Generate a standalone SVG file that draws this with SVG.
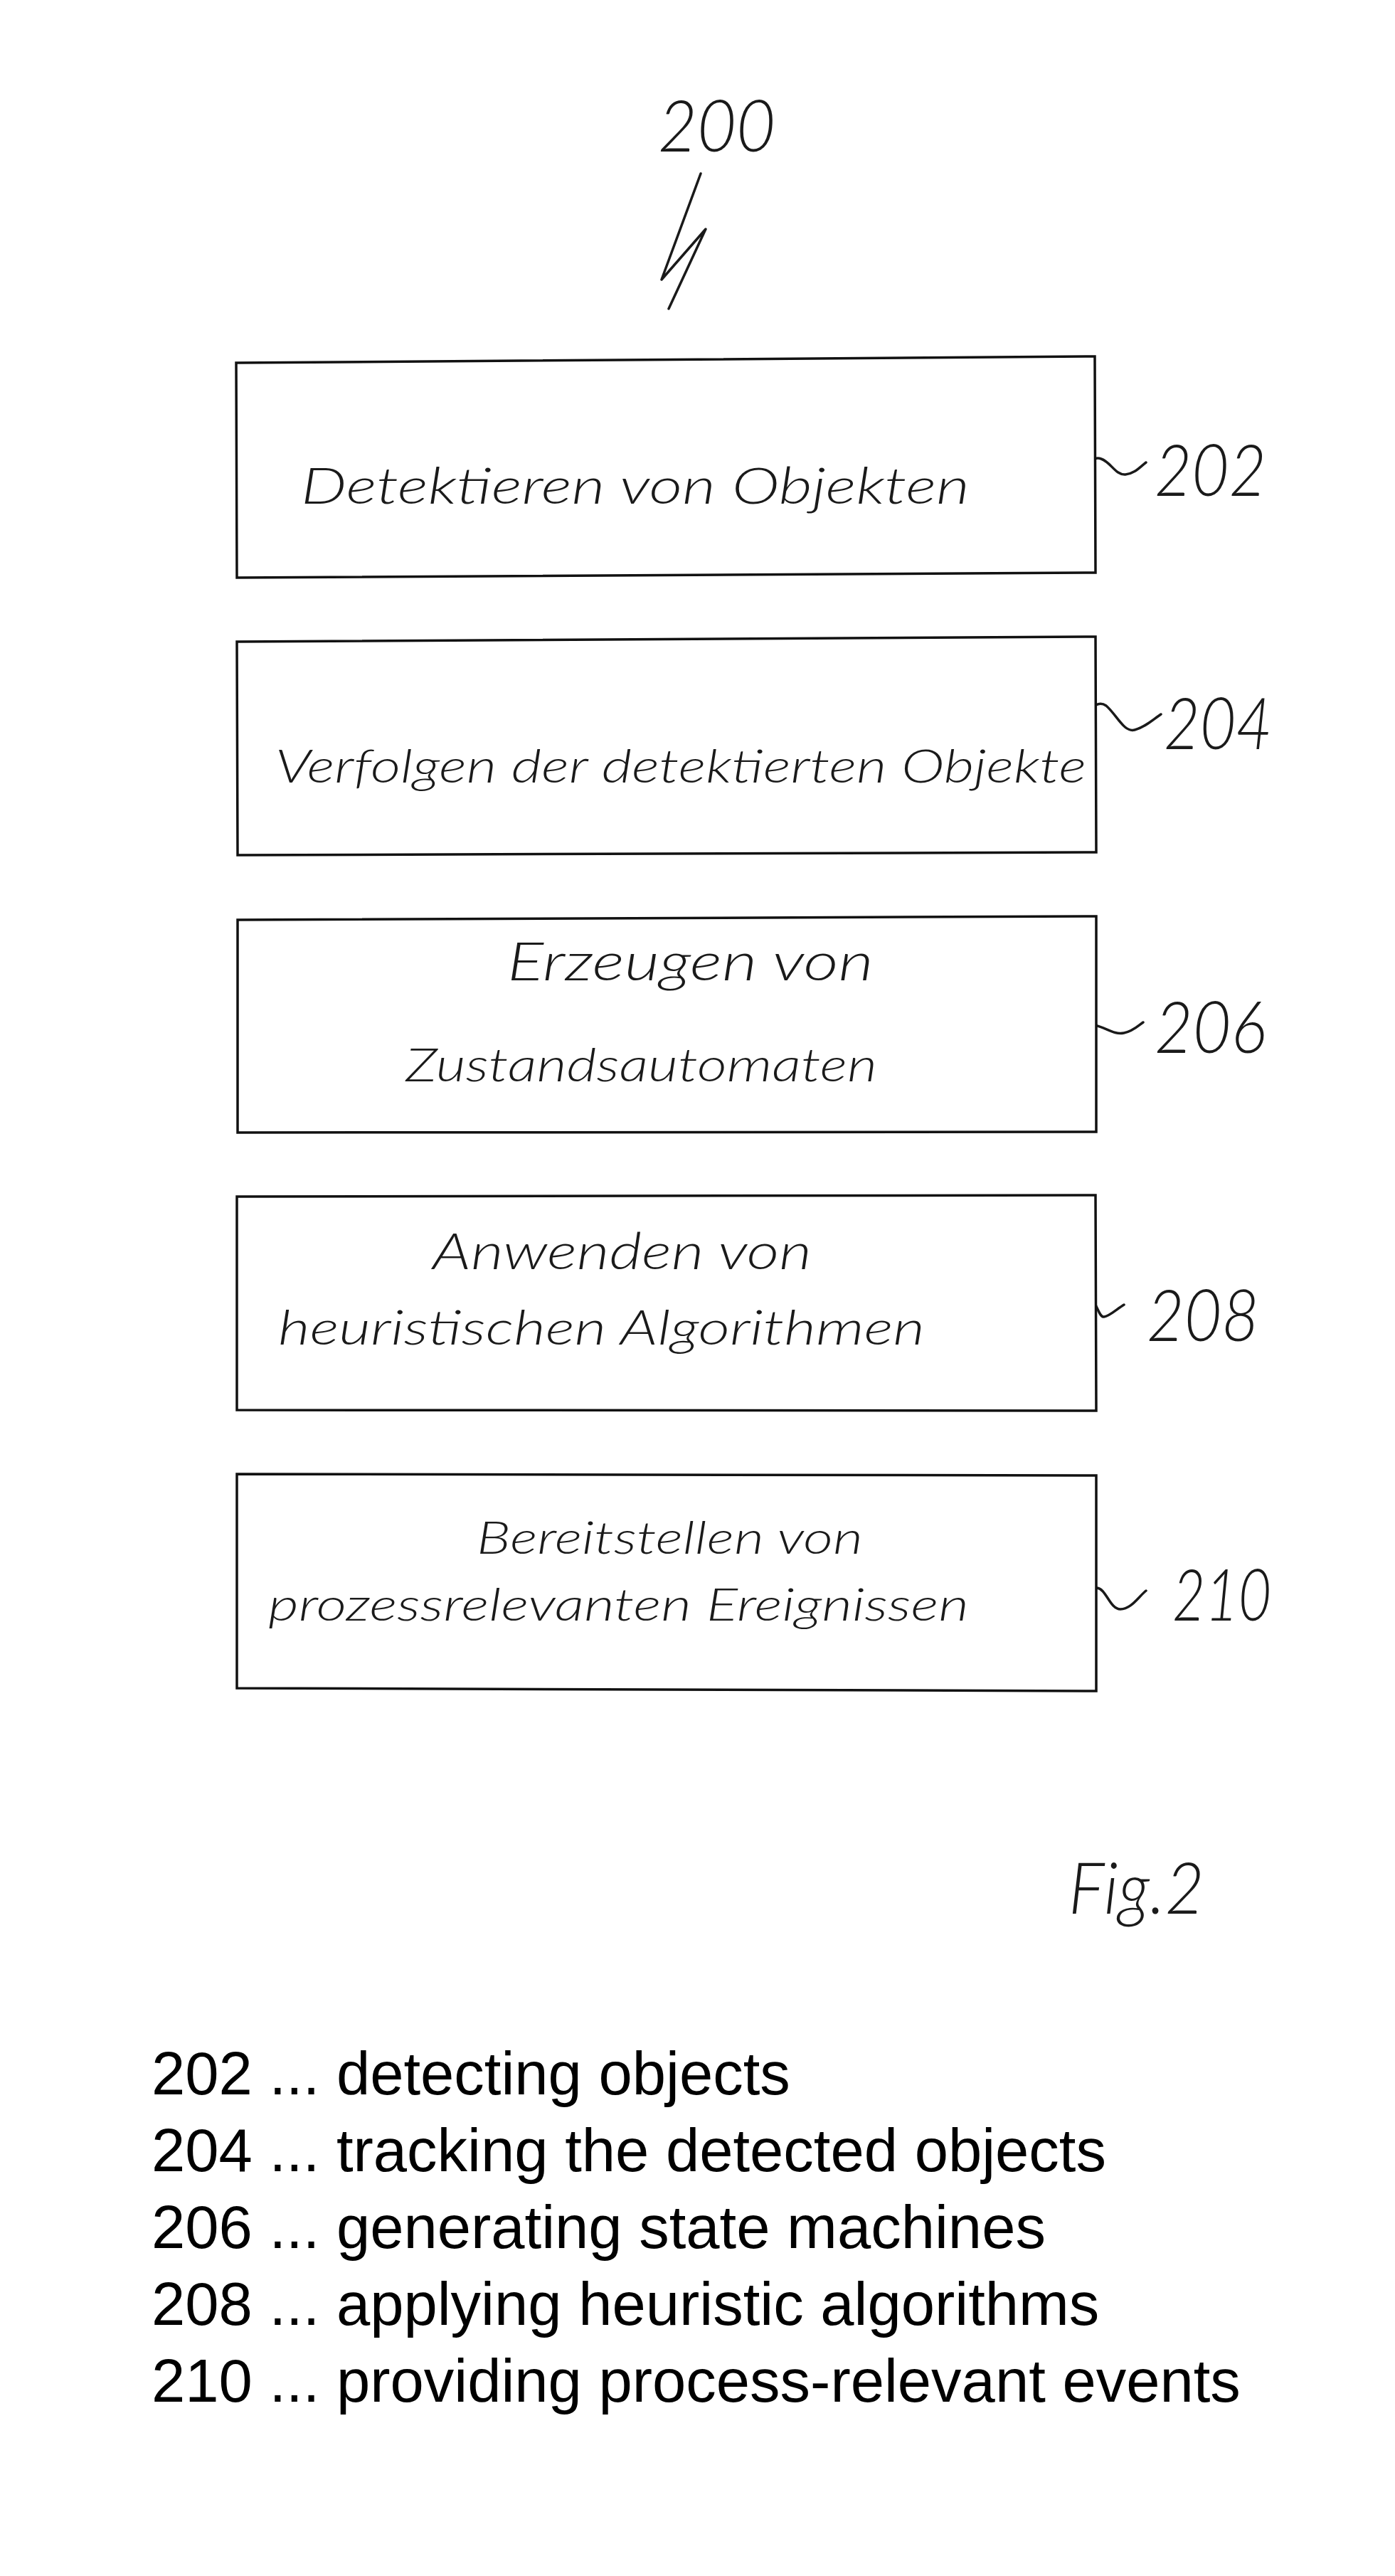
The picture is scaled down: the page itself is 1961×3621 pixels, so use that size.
<svg xmlns="http://www.w3.org/2000/svg" width="1961" height="3621" viewBox="0 0 1961 3621">
<style>
  .box { fill: #fff; stroke: #111; stroke-width: 3.5; stroke-linejoin: miter; }
  .hw { font-family: "Lato", "DejaVu Sans", "Liberation Sans", sans-serif; font-weight: 300; font-style: italic; fill: #1a1a1a; }
  .num { font-size: 100px; }
  .lead { fill: none; stroke: #1a1a1a; stroke-width: 3.5; stroke-linecap: round; stroke-linejoin: round; }
  .legend { font-family: "Liberation Sans", Arial, sans-serif; font-size: 85px; fill: #000; }
</style>
<rect width="1961" height="3621" fill="#fff"/>

<g id="label-200">
  <text class="hw num" x="925" y="213" textLength="165" lengthAdjust="spacingAndGlyphs">200</text>
</g>

<g id="connectors">
  <polyline class="lead" points="985,244 930,393 992,322 940,434"/>
  <path class="lead" d="M1520,680 C1525,655 1535,640 1548,645 C1562,650 1568,668 1582,667 C1595,666 1603,656 1611,650"/>
  <path class="lead" d="M1530,1005 C1535,992 1545,985 1555,992 C1570,1005 1580,1030 1595,1026 C1610,1022 1620,1012 1632,1004"/>
  <path class="lead" d="M1504,1478 C1508,1455 1520,1438 1538,1441 C1555,1444 1565,1455 1580,1452 C1592,1450 1600,1442 1607,1437"/>
  <path class="lead" d="M1497,1874 C1502,1850 1520,1826 1536,1830 C1542,1832 1545,1852 1552,1851 C1560,1850 1570,1840 1580,1834"/>
  <path class="lead" d="M1513,2282 C1515,2255 1527,2232 1542,2232 C1555,2233 1560,2262 1575,2262 C1590,2262 1600,2245 1611,2236"/>
</g>

<g id="node-202">
  <polygon class="box" points="332,510 1539,501 1540,805 333,812"/>
  <text class="hw" font-size="72" x="423" y="708" textLength="940" lengthAdjust="spacingAndGlyphs">Detektieren von Objekten</text>
  <text class="hw num" x="1623" y="697" textLength="157" lengthAdjust="spacingAndGlyphs">202</text>
</g>

<g id="node-204">
  <polygon class="box" points="333,902 1540,895 1541,1198 334,1202"/>
  <text class="hw" font-size="65" x="387" y="1100" textLength="1140" lengthAdjust="spacingAndGlyphs">Verfolgen der detektierten Objekte</text>
  <text class="hw num" x="1636" y="1053" textLength="152" lengthAdjust="spacingAndGlyphs">204</text>
</g>

<g id="node-206">
  <polygon class="box" points="334,1293 1541,1288 1541,1591 334,1592"/>
  <text class="hw" font-size="74" x="713" y="1378" textLength="515" lengthAdjust="spacingAndGlyphs">Erzeugen von</text>
  <text class="hw" font-size="65" x="570" y="1520" textLength="663" lengthAdjust="spacingAndGlyphs">Zustandsautomaten</text>
  <text class="hw num" x="1623" y="1480" textLength="157" lengthAdjust="spacingAndGlyphs">206</text>
</g>

<g id="node-208">
  <polygon class="box" points="333,1682 1540,1680 1541,1983 333,1982"/>
  <text class="hw" font-size="71" x="608" y="1784" textLength="533" lengthAdjust="spacingAndGlyphs">Anwenden von</text>
  <text class="hw" font-size="68" x="391" y="1890" textLength="909" lengthAdjust="spacingAndGlyphs">heuristischen Algorithmen</text>
  <text class="hw num" x="1612" y="1885" textLength="158" lengthAdjust="spacingAndGlyphs">208</text>
</g>

<g id="node-210">
  <polygon class="box" points="333,2072 1541,2074 1541,2377 333,2373"/>
  <text class="hw" font-size="64" x="670" y="2184" textLength="543" lengthAdjust="spacingAndGlyphs">Bereitstellen von</text>
  <text class="hw" font-size="64" x="377" y="2278" textLength="985" lengthAdjust="spacingAndGlyphs">prozessrelevanten Ereignissen</text>
  <text class="hw num" x="1648" y="2278" textLength="139" lengthAdjust="spacingAndGlyphs">210</text>
</g>

<g id="figure-label">
  <text class="hw num" x="1502" y="2690" textLength="191" lengthAdjust="spacingAndGlyphs">Fig.2</text>
</g>

<g id="legend">
  <text class="legend" x="213" y="2944">202 ... detecting objects</text>
  <text class="legend" x="213" y="3052">204 ... tracking the detected objects</text>
  <text class="legend" x="213" y="3160">206 ... generating state machines</text>
  <text class="legend" x="213" y="3268">208 ... applying heuristic algorithms</text>
  <text class="legend" x="213" y="3376">210 ... providing process-relevant events</text>
</g>
</svg>
